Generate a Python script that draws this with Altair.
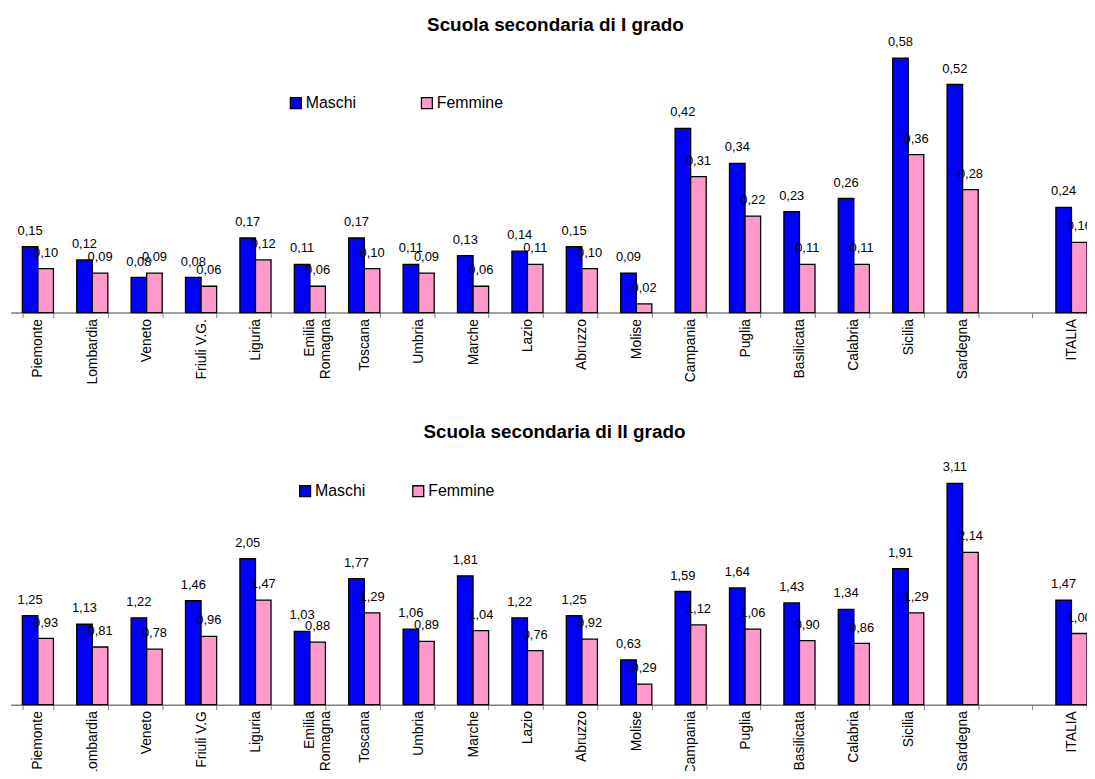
import altair as alt
import pandas as pd

FONT = "Liberation Sans"

# ---- Scuola secondaria di I grado ----
regions_I = ["Piemonte", "Lombardia", "Veneto", "Friuli V.G.", "Liguria",
             "Emilia Romagna", "Toscana", "Umbria", "Marche", "Lazio",
             "Abruzzo", "Molise", "Campania", "Puglia", "Basilicata",
             "Calabria", "Sicilia", "Sardegna", " ", "ITALIA"]
maschi_I = [0.15, 0.12, 0.08, 0.08, 0.17, 0.11, 0.17, 0.11, 0.13, 0.14,
            0.15, 0.09, 0.42, 0.34, 0.23, 0.26, 0.58, 0.52, None, 0.24]
femmine_I = [0.10, 0.09, 0.09, 0.06, 0.12, 0.06, 0.10, 0.09, 0.06, 0.11,
             0.10, 0.02, 0.31, 0.22, 0.11, 0.11, 0.36, 0.28, None, 0.16]

# ---- Scuola secondaria di II grado ----
regions_II = ["Piemonte", "Lombardia", "Veneto", "Friuli V.G", "Liguria",
              "Emilia Romagna", "Toscana", "Umbria", "Marche", "Lazio",
              "Abruzzo", "Molise", "Campania", "Puglia", "Basilicata",
              "Calabria", "Sicilia", "Sardegna", " ", "ITALIA"]
maschi_II = [1.25, 1.13, 1.22, 1.46, 2.05, 1.03, 1.77, 1.06, 1.81, 1.22,
             1.25, 0.63, 1.59, 1.64, 1.43, 1.34, 1.91, 3.11, None, 1.47]
femmine_II = [0.93, 0.81, 0.78, 0.96, 1.47, 0.88, 1.29, 0.89, 1.04, 0.76,
              0.92, 0.29, 1.12, 1.06, 0.90, 0.86, 1.29, 2.14, None, 1.00]

series = ["Maschi", "Femmine"]
colors = ["#0000FF", "#FF99CC"]

W = 1084.3   # plot width (page x 10.7 .. 1095)
H = 763      # plot height (page y 8 .. 771)


def long_df(regions, m, f):
    rows = []
    for r, a, b in zip(regions, m, f):
        if a is not None:
            rows.append({"region": r, "sesso": "Maschi", "v": a})
        if b is not None:
            rows.append({"region": r, "sesso": "Femmine", "v": b})
    return pd.DataFrame(rows)


def panel(regions, m, f, title, ymax, y_base, px_per_unit, title_x, title_y,
          lx, ly, colpad):
    df = long_df(regions, m, f)
    base = alt.Chart(df).transform_calculate(
        lbl="replace(format(datum.v, '.2f'), '.', ',')"
    )
    x = alt.X(
        "region:N", sort=regions,
        scale=alt.Scale(domain=regions, paddingInner=0.428, paddingOuter=0.107,
                        align=1),
        axis=alt.Axis(
            orient="bottom", offset=y_base - H,
            title=title, titleX=title_x, titleY=title_y, titleAngle=0,
            titleAlign="center", titleBaseline="alphabetic",
            titleFontSize=19, titleFontWeight="bold", titleFont=FONT,
            titleColor="black",
            labelAngle=270, tickBand="extent", tickSize=5,
            tickColor="#808080", domainColor="#808080", domainWidth=1.5,
            labelFontSize=14, labelFont=FONT, labelColor="black",
            labelPadding=1, grid=False, labelLimit=200,
            labelExpr="datum.label == 'Emilia Romagna' ? split(datum.label, ' ') : datum.label",
        ),
    )
    xo = alt.XOffset("sesso:N", sort=series,
                     scale=alt.Scale(domain=series, paddingInner=0, paddingOuter=0))
    y = alt.Y("v:Q",
              scale=alt.Scale(domain=[0, ymax],
                              range=[y_base, y_base - ymax * px_per_unit]),
              axis=None)
    bars = base.mark_bar(stroke="black", strokeWidth=1.3).encode(
        x=x, xOffset=xo, y=y,
        color=alt.Color(
            "sesso:N", sort=series,
            scale=alt.Scale(domain=series, range=colors),
            legend=alt.Legend(
                title=None, orient="none", legendX=lx, legendY=ly,
                direction="horizontal", symbolType="square", symbolSize=121,
                symbolStrokeColor="black", symbolStrokeWidth=1.3,
                symbolOpacity=1, labelFontSize=16, labelFont=FONT,
                labelColor="black", labelOffset=2, columnPadding=colpad,
                gridAlign="all", padding=0,
            ),
        ),
    )
    labels = base.mark_text(dy=-16, fontSize=13, font=FONT, color="black",
                            baseline="middle").encode(
        x=x, xOffset=xo, y=y, text="lbl:N"
    )
    return alt.layer(bars, labels)


# plot coordinates = page coordinates - (8 top, 10.7 left)
top = panel(regions_I, maschi_I, femmine_I, "Scuola secondaria di I grado",
            0.6, 304, 442, 548.3, -284.3, 279.3, 84.5, 46)
bottom = panel(regions_II, maschi_II, femmine_II, "Scuola secondaria di II grado",
               3.2, 699, 71.7, 547.3, -269, 288.6, 475.5, 28)

chart = alt.layer(top, bottom).resolve_scale(
    x="independent", y="independent", color="independent", xOffset="independent"
).properties(
    width=W, height=H,
    autosize=alt.AutoSizeParams(type="none"),
    padding={"left": 2.7, "top": 0, "right": 0, "bottom": 0},
).configure_view(stroke=None)

chart.save("out.html", embed_options={"renderer": "svg", "actions": False})
